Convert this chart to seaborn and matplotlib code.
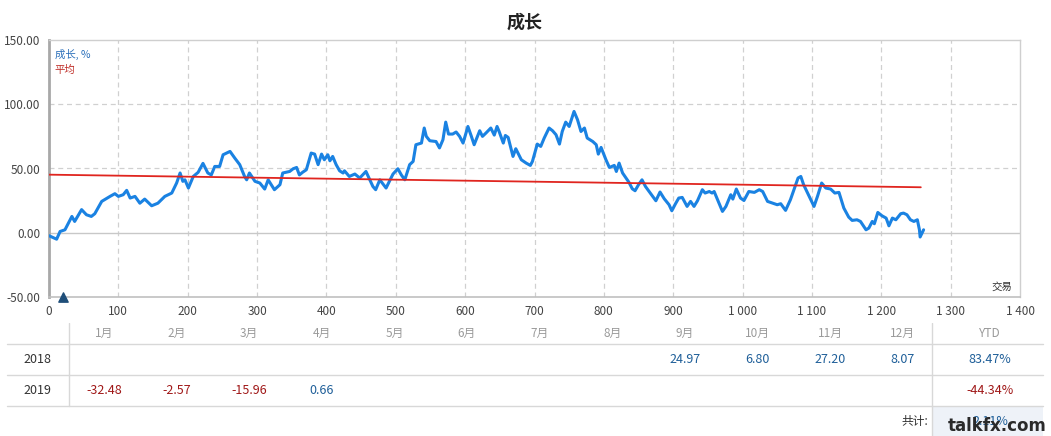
import numpy as np
import pandas as pd
import seaborn as sns
import matplotlib
matplotlib.use("Agg")
import matplotlib.pyplot as plt
from matplotlib.ticker import FuncFormatter, MultipleLocator
from matplotlib.lines import Line2D

# ---------------- data ----------------
trades = [0, 11, 16, 23, 33, 37, 47, 54, 61, 66, 76, 88, 95, 100, 107, 112, 117, 124, 131, 138,
          148, 157, 167, 177, 184, 189, 193, 196, 201, 208, 215, 222, 229, 234, 239, 246, 251, 256,
          261, 268, 275, 282, 285, 289, 297, 304, 311, 316, 325, 333, 337, 347, 352, 357, 361, 366,
          371, 378, 383, 388, 393, 397, 402, 405, 409, 414, 419, 424, 426, 433, 441, 448, 457, 467,
          471, 477, 486, 496, 503, 508, 513, 520, 525, 529, 537, 541, 544, 549, 558, 563, 568, 572,
          576, 582, 587, 592, 597, 604, 609, 613, 621, 625, 630, 637, 642, 646, 649, 655, 658, 662,
          669, 673, 681, 688, 694, 697, 704, 709, 714, 721, 726, 731, 736, 740, 745, 750, 757, 762,
          767, 772, 776, 784, 789, 792, 796, 803, 808, 815, 818, 822, 827, 836, 841, 845, 850, 855,
          860, 868, 875, 881, 887, 894, 898, 903, 908, 913, 920, 925, 930, 935, 942, 946, 952, 956,
          959, 964, 971, 976, 983, 986, 991, 997, 1002, 1009, 1017, 1024, 1029, 1036, 1043, 1050,
          1055, 1062, 1069, 1075, 1080, 1084, 1088, 1096, 1103, 1108, 1114, 1120, 1127, 1133, 1139,
          1146, 1153, 1158, 1165, 1170, 1178, 1182, 1187, 1190, 1195, 1201, 1207, 1211, 1216, 1221,
          1228, 1232, 1237, 1242, 1247, 1252, 1255, 1256, 1261]
growth = [-2.3, -5, 1, 2.3, 12.7, 8.8, 18, 14, 12.7, 14.8, 24.4, 28.3, 30.4, 28.3, 29.6, 33, 27,
          28.3, 23, 26.2, 21, 23, 28.3, 30.9, 38.7, 46.5, 40, 41.2, 34.8, 43.8, 47, 54, 46.5, 45,
          51.6, 51.6, 60.7, 62, 63.3, 58, 53, 43.8, 41.2, 46.5, 40, 38.7, 34, 41.2, 33.5, 37.4,
          46.5, 47.7, 49.8, 50.8, 45, 47.2, 49, 62, 61.2, 53, 61.2, 56.8, 60.7, 56, 59.4, 53, 48.2,
          46.5, 48.2, 43.8, 45.7, 42.6, 47.7, 36, 33.5, 41.2, 34.8, 45.7, 49.8, 45, 41.2, 53, 55.5,
          68.5, 69.8, 81.5, 75, 71.6, 71, 66, 72.4, 86.1, 76.8, 76.8, 78.4, 75, 69.8, 82.7, 75,
          68.5, 79.4, 75, 77.6, 81.5, 76, 82.7, 78.8, 69.8, 75.7, 74.2, 59.4, 65.4, 56.8, 54.2,
          52.4, 55.5, 69, 67.2, 73.7, 81.5, 79.4, 76.3, 69, 78.8, 86.1, 82.7, 94.4, 88, 78.8, 81.5,
          73.7, 71, 68.5, 61.2, 66.4, 56.8, 50.8, 52.4, 47.7, 54.2, 46.5, 39.4, 34.2, 32.7, 37.4,
          41.2, 36, 30.1, 24.9, 31.7, 26.5, 21.8, 17.1, 22.3, 27, 27.5, 20.5, 24.4, 20.5, 24.9,
          33.5, 30.9, 32.1, 30.9, 32.1, 25.7, 16.6, 20.5, 29.6, 26.2, 34, 27, 25.1, 32.1, 31.4,
          33.5, 32.1, 24.4, 23.1, 21.8, 22.6, 17.4, 25.7, 34.8, 42.6, 43.8, 37.4, 28.3, 20.5, 28.3,
          38.7, 34.8, 34, 30.9, 31.4, 19.2, 12.2, 9.6, 10.1, 8.8, 2.3, 3.6, 8.8, 7, 15.8, 13.2,
          11.4, 5.4, 11.4, 10.1, 14.8, 15.3, 14, 10.1, 8.8, 10.1, 2.3, -3.3, 2.3]
avg_x = [0, 1257]
avg_y = [45.2, 35.4]
marker_x = [20]
marker_y = [-50]

months = ["1月", "2月", "3月", "4月", "5月", "6月", "7月", "8月", "9月", "10月", "11月", "12月"]
years = ["2018", "2019"]
vals_2018 = [None, None, None, None, None, None, None, None, 24.97, 6.80, 27.20, 8.07]
vals_2019 = [-32.48, -2.57, -15.96, 0.66, None, None, None, None, None, None, None, None]
ytd = [83.47, -44.34]
total_label = "共计:"
total_value = "2.11%"

# ---------------- style ----------------
sns.set_style("white")
plt.rcParams['font.family'] = ['Noto Sans CJK SC', 'DejaVu Sans']

BLUE = "#1a82e2"
RED = "#e0251f"
POS = "#1f5f99"
NEG = "#a01818"
GRID = "#d0d0d0"

W, H = 1051, 436
fig = plt.figure(figsize=(W / 100, H / 100), dpi=100)
fig.patch.set_facecolor("white")

L, R, T, B = 49, 1020, 40, 297
ax = fig.add_axes([L / W, 1 - B / H, (R - L) / W, (B - T) / H])

df = pd.DataFrame({"trade": trades, "growth": growth})
sns.lineplot(data=df, x="trade", y="growth", ax=ax, color=BLUE, linewidth=2.2, zorder=3)
dfa = pd.DataFrame({"trade": avg_x, "avg": avg_y})
sns.lineplot(data=dfa, x="trade", y="avg", ax=ax, color=RED, linewidth=1.3, zorder=4)
ax.scatter(marker_x, marker_y, marker="^", s=45, color="#1f4e79", zorder=6, clip_on=False)

ax.set_xlim(0, 1400)
ax.set_ylim(-50, 150)
ax.xaxis.set_major_locator(MultipleLocator(100))
ax.yaxis.set_major_locator(MultipleLocator(50))
ax.xaxis.set_major_formatter(FuncFormatter(lambda v, p: f"{int(round(v)):,}".replace(",", " ")))
ax.yaxis.set_major_formatter(FuncFormatter(lambda v, p: f"{v:.2f}"))
ax.tick_params(axis="both", length=0, labelsize=8.5, labelcolor="#444")
ax.tick_params(axis="x", pad=6)
ax.tick_params(axis="y", pad=6)
ax.set_xlabel("")
ax.set_ylabel("")

for xv in range(100, 1400, 100):
    ax.axvline(xv, color=GRID, linestyle=(0, (4, 3)), linewidth=0.9, zorder=1)
for yv in (50, 100):
    ax.axhline(yv, color=GRID, linestyle=(0, (4, 3)), linewidth=0.9, zorder=1)
ax.axhline(0, color="#c8c8c8", linewidth=1.0, zorder=1)

for side, sp in ax.spines.items():
    sp.set_visible(True)
    sp.set_color("#cfcfcf")
    sp.set_linewidth(1.0)
ax.spines["left"].set_color("#a8a8a8")
ax.spines["left"].set_linewidth(2.0)
ax.spines["bottom"].set_color("#c0c0c0")
ax.spines["bottom"].set_linewidth(1.2)

ax.text(0.006, 0.965, "成长, %", transform=ax.transAxes, color="#2a6fba", fontsize=7.5, va="top", ha="left")
ax.text(0.006, 0.905, "平均", transform=ax.transAxes, color="#c0302a", fontsize=7.5, va="top", ha="left")
ax.text(0.992, 0.02, "交易", transform=ax.transAxes, color="#333", fontsize=7.5, va="bottom", ha="right")

fig.text(525 / W, 1 - 22 / H, "成长", ha="center", va="center", fontsize=13, fontweight="bold", color="#222")

# ---------------- table ----------------
tax = fig.add_axes([0, 0, 1, (H - 323) / H])
tax.set_xlim(0, W)
tax.set_ylim(H, 323)
tax.axis("off")

col_x = [104 + 72.6 * i for i in range(12)]
ytd_x = 990
hdr_y, r1_y, r2_y, r3_y = 333, 359, 390, 421
for i, m in enumerate(months):
    tax.text(col_x[i], hdr_y, m, ha="center", va="center", fontsize=8.5, color="#9a9a9a")
tax.text(ytd_x, hdr_y, "YTD", ha="center", va="center", fontsize=8.5, color="#9a9a9a")

for yy in (344, 375, 406):
    tax.plot([7, 1043], [yy, yy], color="#d8d8d8", linewidth=1.0)
tax.plot([69, 69], [323, 406], color="#d8d8d8", linewidth=1.0)
tax.plot([932, 932], [323, 436], color="#d8d8d8", linewidth=1.0)
tax.fill_between([932.5, 1043], 406.5, 436, color="#eef2f8", linewidth=0)

for yrow, yr, vals, yv in ((r1_y, years[0], vals_2018, ytd[0]), (r2_y, years[1], vals_2019, ytd[1])):
    tax.text(37, yrow, yr, ha="center", va="center", fontsize=9, color="#333")
    for i, v in enumerate(vals):
        if v is None:
            continue
        tax.text(col_x[i], yrow, f"{v:.2f}", ha="center", va="center", fontsize=9,
                 color=POS if v >= 0 else NEG)
    tax.text(ytd_x, yrow, f"{yv:.2f}%", ha="center", va="center", fontsize=9,
             color=POS if yv >= 0 else NEG)

tax.text(915, r3_y, total_label, ha="center", va="center", fontsize=8.5, color="#333")
tax.text(ytd_x, r3_y, total_value, ha="center", va="center", fontsize=9, color=POS)
tax.text(997, 426, "talkfx.com", ha="center", va="center", fontsize=12, fontweight="bold",
         color="#2a2a2a", family=["DejaVu Sans"])

fig.savefig("out.png", dpi=100, facecolor="white")
